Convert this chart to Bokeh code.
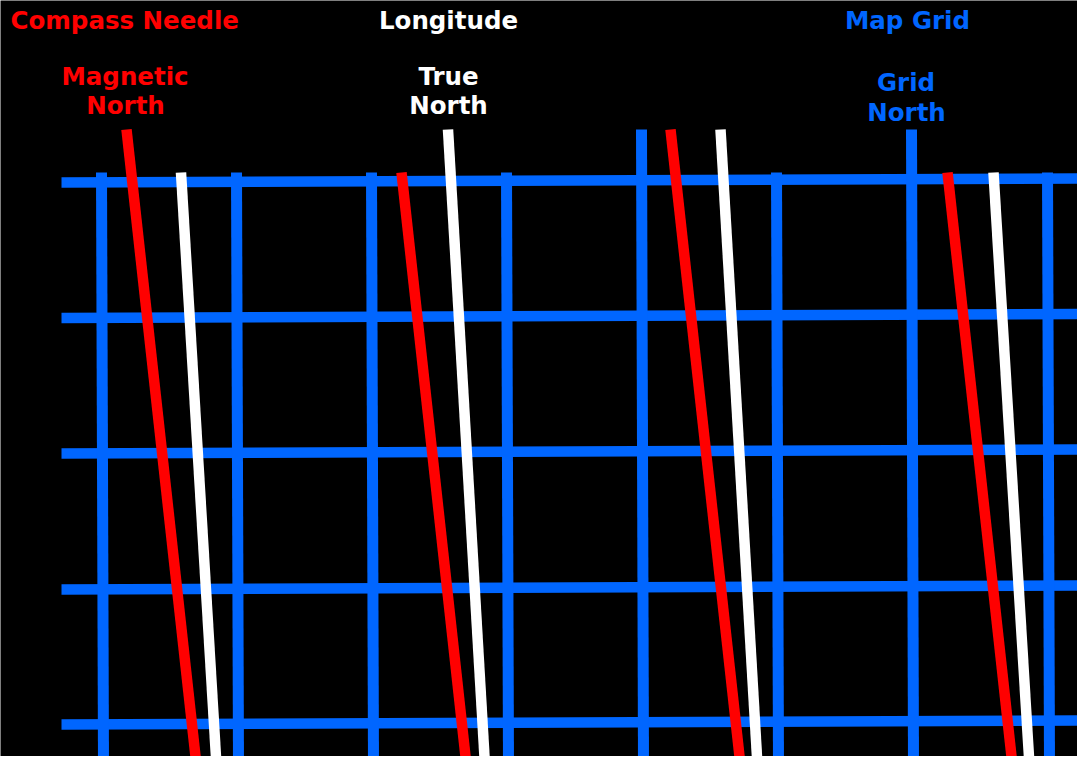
from bokeh.plotting import figure
from bokeh.models import Range1d
from bokeh.core.properties import value
from bokeh.embed import file_html
from bokeh.resources import INLINE

# ---- data (diagram coordinates in screen pixels) ----
# Map grid: vertical lines (x at top, x at bottom, top y)
grid_col_x_top = [101, 236, 371, 506, 641, 776, 911, 1047]
grid_col_x_bot = [103, 238, 373, 508, 643, 778, 913, 1049]
grid_col_y_top = [172, 172, 172, 172, 129, 172, 129, 172]
# Map grid: horizontal lines (y at left, y at right)
grid_row_y_left = [182, 317.5, 453, 589, 724]
grid_row_y_right = [178, 313.5, 449, 585, 720]
grid_row_x_left = 61
grid_row_x_right = 1086
bottom_y = 765

# Magnetic north (compass needle) lines
mag_x_top = [126, 401, 670, 947]
mag_y_top = [129, 172, 129, 172]
mag_x_bot = [196, 466, 740, 1012]

# True north (longitude) lines
true_x_top = [180.5, 447.5, 720, 993]
true_y_top = [172, 129, 129, 172]
true_x_bot = [216, 484.5, 757, 1029]

# Labels
head_texts = ["Compass Needle", "Longitude", "Map Grid"]
head_x = [10, 448, 907]
head_y = [19.5, 19.5, 19.5]
head_align = ["left", "center", "center"]
head_colors = ["#FF0000", "#FFFFFF", "#0066FF"]

sub_texts = ["Magnetic", "North", "True", "North", "Grid", "North"]
sub_x = [124.5, 125, 448, 448, 905.5, 906]
sub_y = [75.5, 104.5, 75.5, 104.5, 81.5, 111.5]
sub_colors = ["#FF0000", "#FF0000", "#FFFFFF", "#FFFFFF", "#0066FF", "#0066FF"]

RED = "#FF0000"
WHITE = "#FFFFFF"
BLUE = "#0066FF"

W, H = 1077, 756
p = figure(width=W, height=H, output_backend="svg", toolbar_location=None,
           x_range=Range1d(0, W), y_range=Range1d(H, 0), min_border=0)
p.axis.visible = False
p.grid.visible = False
p.outline_line_color = None
p.background_fill_color = "black"
p.border_fill_color = "black"

# grid
p.segment(x0=[grid_row_x_left] * len(grid_row_y_left), y0=grid_row_y_left,
          x1=[grid_row_x_right] * len(grid_row_y_right), y1=grid_row_y_right,
          line_color=BLUE, line_width=10.5, line_cap="butt")
p.segment(x0=grid_col_x_top, y0=grid_col_y_top,
          x1=grid_col_x_bot, y1=[bottom_y] * len(grid_col_x_bot),
          line_color=BLUE, line_width=11, line_cap="butt")

# needles
p.segment(x0=mag_x_top, y0=mag_y_top, x1=mag_x_bot, y1=[bottom_y] * len(mag_x_bot),
          line_color=RED, line_width=10.5, line_cap="butt")
p.segment(x0=true_x_top, y0=true_y_top, x1=true_x_bot, y1=[bottom_y] * len(true_x_bot),
          line_color=WHITE, line_width=10.5, line_cap="butt")

# labels (cap-centre positions)
p.text(x=head_x, y=head_y, text=head_texts, text_color=head_colors,
       text_align=head_align, text_baseline="alphabetic",
       text_font=value("DejaVu Sans"), text_font_style="bold", text_font_size="24.5px")
p.text(x=sub_x, y=sub_y, text=sub_texts, text_color=sub_colors,
       text_align="center", text_baseline="alphabetic",
       text_font=value("DejaVu Sans"), text_font_style="bold", text_font_size="24.5px")

open("out.html", "w").write(file_html(p, INLINE))
